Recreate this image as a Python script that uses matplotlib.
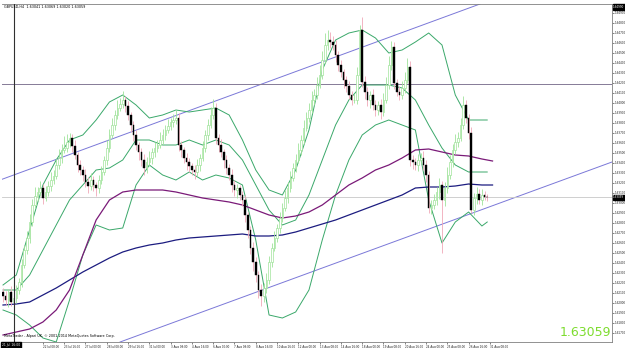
import matplotlib
matplotlib.use("Agg")
import matplotlib.pyplot as plt
import numpy as np

# ---------------- data (GBPUSD, H4) ----------------
closes = [
    1.6207, 1.6203, 1.6211, 1.6201, 1.6205, 1.6213, 1.6221, 1.6238, 1.6253, 1.6265,
    1.6281, 1.6298, 1.6307, 1.6311, 1.6315, 1.6305, 1.6311, 1.6317, 1.6323, 1.6327,
    1.6338, 1.6345, 1.6353, 1.6355, 1.6361, 1.6365, 1.6357, 1.6348, 1.6338, 1.6333,
    1.6328, 1.6321, 1.6317, 1.6323, 1.6318, 1.6315, 1.6323, 1.6331, 1.6343, 1.6355,
    1.6368, 1.6378, 1.6388, 1.6395, 1.6399, 1.6403, 1.6397, 1.6388, 1.6378, 1.6368,
    1.6358, 1.6351, 1.6343, 1.6335, 1.6341, 1.6345, 1.6351, 1.6355, 1.6358, 1.6363,
    1.6368, 1.6373, 1.6377, 1.6381, 1.6383, 1.6385, 1.6358, 1.6353, 1.6345, 1.6341,
    1.6337, 1.6333, 1.6331, 1.6338, 1.6345, 1.6355, 1.6368, 1.6378, 1.6388, 1.6395,
    1.6365, 1.6358, 1.6351, 1.6343, 1.6335, 1.6328, 1.6318, 1.6313, 1.6315, 1.6308,
    1.6303, 1.6288, 1.6273, 1.6255, 1.6241, 1.6228, 1.6213, 1.6207, 1.6215, 1.6223,
    1.6241, 1.6255, 1.6265, 1.6275, 1.6285, 1.6295, 1.6305, 1.6315, 1.6325, 1.6335,
    1.6343, 1.6353, 1.6363, 1.6375, 1.6385, 1.6393, 1.6403, 1.6408, 1.6418, 1.6428,
    1.6443, 1.6458, 1.6463, 1.6461, 1.6458, 1.6448, 1.6438, 1.6431, 1.6423, 1.6417,
    1.6408, 1.6403, 1.6403, 1.6428, 1.6473, 1.6421, 1.6411, 1.6403, 1.6408, 1.6398,
    1.6393, 1.6398, 1.6391, 1.6403, 1.6418, 1.6438, 1.6456, 1.6420, 1.6411, 1.6408,
    1.6415, 1.6423, 1.6436, 1.6343, 1.6341, 1.6338, 1.6343, 1.6345, 1.6338, 1.6328,
    1.6295, 1.6298, 1.6303, 1.6311, 1.6318, 1.6303, 1.6315, 1.6328, 1.6341, 1.6353,
    1.6361, 1.6365, 1.6378, 1.6398, 1.6385, 1.6370, 1.6293, 1.6305, 1.6309, 1.6303,
    1.6308, 1.6306, 1.63059,
]
first_open = 1.6211

# wick lengths beyond the body, in pips
wick_up_pips = [
    4, 5, 3, 6, 4, 5, 4, 6, 5, 7,   8, 6, 9, 5, 7, 4, 6, 5, 8, 6,
    7, 9, 6, 12, 8, 5, 4, 6, 3, 5,  4, 6, 5, 7, 4, 3, 5, 6, 4, 8,
    6, 7, 5, 8, 6, 9, 4, 5, 3, 4,   5, 3, 4, 6, 5, 7, 4, 6, 5, 8,
    6, 5, 7, 4, 6, 8, 5, 4, 3, 5,   4, 3, 5, 6, 4, 7, 5, 6, 8, 9,
    5, 4, 6, 3, 5, 4, 6, 5, 4, 3,   4, 5, 3, 4, 6, 5, 4, 6, 5, 7,
    6, 5, 7, 4, 6, 5, 8, 6, 7, 5,   6, 7, 5, 8, 6, 7, 9, 6, 8, 10,
    9, 12, 10, 8, 6, 5, 4, 5, 3, 4, 5, 4, 6, 8, 5, 13, 6, 5, 4, 6,
    5, 4, 6, 7, 8, 9, 6, 5, 4, 6,   7, 8, 9, 6, 5, 4, 6, 5, 7, 5,
    4, 5, 6, 5, 7, 4, 6, 8, 7, 6,   8, 6, 7, 9, 5, 4, 6, 5, 7, 5,
    6, 4, 3,
]
wick_dn_pips = [
    6, 5, 7, 4, 6, 5, 4, 5, 3, 4,   5, 4, 3, 5, 4, 6, 3, 4, 5, 4,
    3, 4, 5, 3, 4, 5, 6, 4, 7, 5,   6, 5, 7, 4, 6, 8, 5, 4, 3, 5,
    4, 3, 5, 4, 3, 4, 6, 5, 7, 6,   5, 8, 6, 7, 5, 4, 6, 5, 4, 3,
    4, 5, 3, 4, 5, 4, 6, 7, 5, 8,   6, 5, 7, 4, 6, 3, 4, 5, 3, 4,
    6, 7, 5, 8, 6, 5, 7, 6, 8, 5,   6, 7, 8, 6, 9, 7, 8, 10, 6, 5,
    4, 5, 3, 4, 5, 4, 3, 5, 4, 3,   4, 3, 5, 4, 3, 4, 3, 5, 4, 3,
    4, 3, 5, 6, 5, 7, 6, 5, 8, 6,   4, 5, 3, 4, 6, 5, 7, 6, 8, 5,
    6, 5, 7, 4, 3, 4, 5, 6, 4, 5,   4, 5, 3, 6, 7, 5, 6, 4, 5, 7,
    5, 6, 4, 5, 7, 53, 6, 5, 4, 5,  4, 5, 3, 4, 5, 6, 3, 5, 6, 4,
    5, 3, 4,
]

# Bollinger bands (20) sampled at bar indices
bb_idx = [0, 5, 10, 15, 20, 25, 30, 35, 40, 45, 50, 55, 60, 65, 70, 75, 80, 85, 90,
          95, 100, 105, 110, 115, 120, 125, 130, 135, 140, 145, 150, 155, 160, 165,
          170, 175, 180, 182]
bb_upper = [1.6218, 1.6228, 1.6273, 1.6318, 1.6343, 1.6363, 1.6368, 1.6383, 1.6401,
            1.6408, 1.6398, 1.6385, 1.6388, 1.6393, 1.6391, 1.6393, 1.6395, 1.6388,
            1.6363, 1.6333, 1.6313, 1.6308, 1.6333, 1.6373, 1.6433, 1.6463, 1.6470,
            1.6473, 1.6465, 1.6450, 1.6453, 1.6461, 1.6470, 1.6458, 1.6408, 1.6383,
            1.6383, 1.6383]
bb_middle = [1.6213, 1.6213, 1.6228, 1.6253, 1.6278, 1.6303, 1.6318, 1.6333, 1.6335,
             1.6343, 1.6363, 1.6363, 1.6358, 1.6358, 1.6363, 1.6358, 1.6363, 1.6358,
             1.6343, 1.6318, 1.6293, 1.6278, 1.6283, 1.6308, 1.6343, 1.6378, 1.6403,
             1.6418, 1.6418, 1.6418, 1.6415, 1.6403, 1.6378, 1.6355, 1.6338, 1.6331,
             1.6331, 1.6331]
bb_lower = [1.6193, 1.6188, 1.6178, 1.6165, 1.6161, 1.6203, 1.6248, 1.6278, 1.6273,
            1.6275, 1.6318, 1.6338, 1.6328, 1.6323, 1.6331, 1.6323, 1.6328, 1.6325,
            1.6318, 1.6263, 1.6188, 1.6185, 1.6191, 1.6213, 1.6263, 1.6308, 1.6343,
            1.6368, 1.6378, 1.6383, 1.6378, 1.6373, 1.6303, 1.6260, 1.6281, 1.6291,
            1.6277, 1.6281]

# long moving averages sampled at bar indices
ma_idx = [0, 5, 10, 15, 20, 25, 30, 35, 40, 45, 50, 55, 60, 65, 70, 75, 80, 85, 90,
          95, 100, 105, 110, 115, 120, 125, 130, 135, 140, 145, 150, 155, 160, 165,
          170, 175, 180, 184]
ma_navy = [1.6198, 1.6199, 1.6201, 1.6208, 1.6215, 1.6223, 1.6231, 1.6238, 1.6245,
           1.6251, 1.6255, 1.6258, 1.6260, 1.6263, 1.6265, 1.6266, 1.6267, 1.6268,
           1.6269, 1.6267, 1.6267, 1.6268, 1.6271, 1.6275, 1.6279, 1.6283, 1.6288,
           1.6293, 1.6298, 1.6303, 1.6308, 1.6315, 1.6316, 1.6316, 1.6317, 1.6319,
           1.6318, 1.6318]
ma_purple = [1.6168, 1.6171, 1.6174, 1.6181, 1.6193, 1.6213, 1.6248, 1.6283, 1.6303,
             1.6311, 1.6313, 1.6313, 1.6313, 1.6311, 1.6308, 1.6305, 1.6303, 1.6301,
             1.6298, 1.6293, 1.6288, 1.6285, 1.6287, 1.6291, 1.6298, 1.6308, 1.6318,
             1.6325, 1.6333, 1.6338, 1.6345, 1.6353, 1.6354, 1.6351, 1.6348, 1.6347,
             1.6344, 1.6342]

# channel (two anchor points each: bar index, price)
channel_upper = [(-1.1, 1.6323), (168.0, 1.6488)]
channel_lower = [(44.0, 1.6161), (228.9, 1.6341)]
hline_price = 1.6419
vline_bar = 4.3
bid = 1.63059

time_ticks = [15, 23, 31, 39, 47, 55, 63, 71, 79, 87, 95, 103, 111, 119, 127, 135,
              143, 151, 159, 167, 175, 183]
time_labels = ["22 Jul 08:00", "23 Jul 16:00", "27 Jul 00:00", "28 Jul 08:00",
               "29 Jul 16:00", "31 Jul 00:00", "3 Aug 08:00", "4 Aug 16:00",
               "6 Aug 00:00", "7 Aug 08:00", "8 Aug 16:00", "10 Aug 16:00",
               "12 Aug 00:00", "13 Aug 08:00", "14 Aug 16:00", "18 Aug 00:00",
               "19 Aug 08:00", "20 Aug 16:00", "24 Aug 00:00", "25 Aug 08:00",
               "26 Aug 16:00", "31 Aug 08:00"]
price_ticks = [1.6170 + 0.001 * k for k in range(33)]

# ---------------- drawing ----------------
W, H = 625, 348
fig = plt.figure(figsize=(W / 100, H / 100), dpi=100)
fig.patch.set_facecolor("white")
ax = fig.add_axes([2 / W, 6 / H, 610 / W, 338 / H])
ax.set_xlim(-0.38, 228.9)
ax.set_ylim(1.6161, 1.6499)

closes_a = np.array(closes)
opens_a = np.concatenate([[first_open], closes_a[:-1]])
idx = np.arange(len(closes_a))
top = np.maximum(opens_a, closes_a)
bot = np.minimum(opens_a, closes_a)
highs = top + np.array(wick_up_pips) * 0.0001
lows = bot - np.array(wick_dn_pips) * 0.0001
bull = closes_a >= opens_a

bull_col = "#9fe39a"
bear_wick = "#f0a8b8"

# channel lines & horizontal objects
ax.axline(channel_upper[0], channel_upper[1], color="#7b78d8", lw=0.7, zorder=1)
ax.axline(channel_lower[0], channel_lower[1], color="#7b78d8", lw=0.7, zorder=1)
ax.axhline(hline_price, color="#857a96", lw=0.7, zorder=1)
ax.axhline(bid, color="#c8c8c8", lw=0.6, zorder=1)
ax.axvline(vline_bar, color="#303030", lw=0.8, zorder=6)

# indicators
ax.plot(bb_idx, bb_upper, color="#3aa86a", lw=0.7, zorder=2)
ax.plot(bb_idx, bb_middle, color="#3aa86a", lw=0.7, zorder=2)
ax.plot(bb_idx, bb_lower, color="#3aa86a", lw=0.7, zorder=2)
ax.plot(ma_idx, ma_navy, color="#1c1c80", lw=0.9, zorder=3)
ax.plot(ma_idx, ma_purple, color="#7a1a78", lw=0.9, zorder=3)

# candles
ax.vlines(idx[bull], lows[bull], highs[bull], color=bull_col, lw=0.6, zorder=4)
ax.vlines(idx[~bull], lows[~bull], highs[~bull], color=bear_wick, lw=0.6, zorder=4)
hgt = np.maximum(top - bot, 0.00004)
ax.bar(idx[bull], hgt[bull], bottom=bot[bull], width=0.6, color="white",
       edgecolor=bull_col, lw=0.5, zorder=5)
ax.bar(idx[~bull], hgt[~bull], bottom=bot[~bull], width=0.6, color="black",
       edgecolor="black", lw=0.3, zorder=5)

# axes styling
for s in ax.spines.values():
    s.set_color("#808080")
    s.set_linewidth(0.6)
ax.spines["left"].set_visible(False)
ax.yaxis.tick_right()
ax.set_yticks(price_ticks)
ax.set_yticklabels([f"{p:.5f}" for p in price_ticks], fontsize=2.0)
ax.set_xticks(time_ticks)
ax.set_xticklabels(time_labels, fontsize=2.0, ha="left")
ax.tick_params(axis="both", length=1.5, width=0.4, pad=0.6, colors="#202020")

# header & footer texts
ax.text(0.003, 0.997, "GBPUSD,H4  1.63041 1.63069 1.63020 1.63059",
        transform=ax.transAxes, fontsize=2.4, va="top", ha="left", zorder=7)
ax.text(0.003, 0.012, "MetaTrader - Alpari UK, \u00a9 2001-2014 MetaQuotes Software Corp.",
        transform=ax.transAxes, fontsize=2.4, va="bottom", ha="left", zorder=7)
ax.text(0.998, 0.008, f"{bid:.5f}", transform=ax.transAxes, fontsize=9,
        color="#7ddc2e", va="bottom", ha="right", zorder=7)

# highlighted axis labels
ax.text(1.002, bid, f"{bid:.5f}", transform=ax.get_yaxis_transform(), fontsize=2.0,
        color="white", va="center", ha="left", zorder=8,
        bbox=dict(boxstyle="square,pad=0.2", fc="black", ec="black"))
ax.text(1.002, 0.997, "1.64990", transform=ax.transAxes, fontsize=2.0,
        color="white", va="top", ha="left", zorder=8,
        bbox=dict(boxstyle="square,pad=0.2", fc="black", ec="black"))
ax.text(0.0, -0.004, "21 Jul 16:00", transform=ax.transAxes, fontsize=2.2,
        color="white", va="top", ha="left", zorder=8,
        bbox=dict(boxstyle="square,pad=0.3", fc="black", ec="black"))

fig.savefig("out.png", dpi=100, facecolor="white")
